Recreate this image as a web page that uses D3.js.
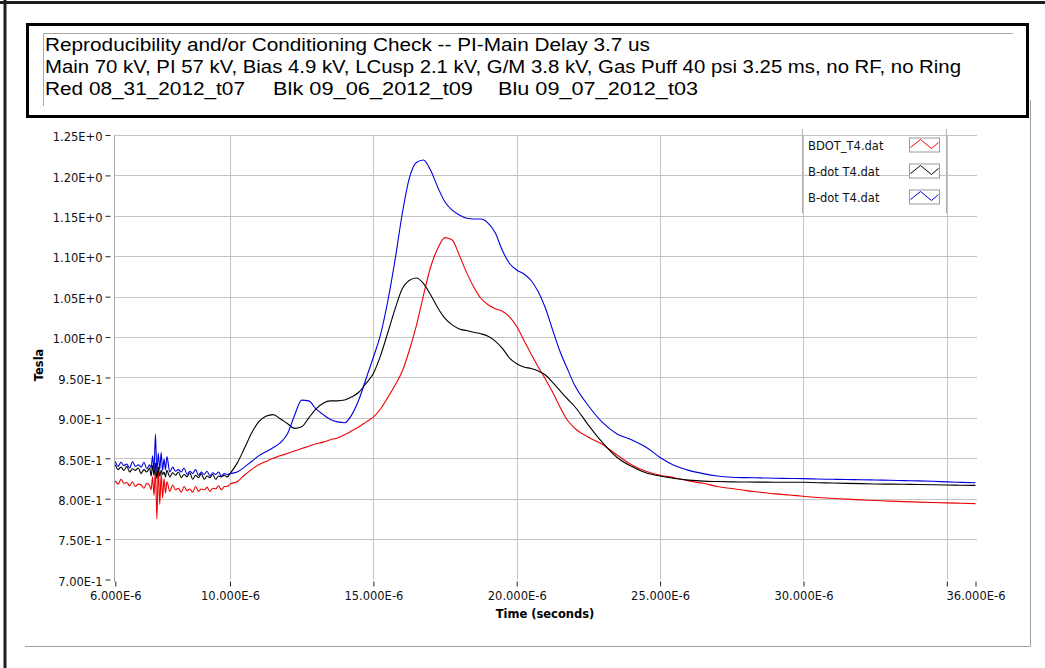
<!DOCTYPE html>
<html>
<head>
<meta charset="utf-8">
<script src="https://cdn.jsdelivr.net/npm/d3@7"></script>
<style>
    body { margin: 0; background: #ffffff; }
    svg { display: block; }
</style>
</head>
<body>
<div id="chart"></div>
<script>
// Titre (3 lignes)
const titleLine1 = "Reproducibility and/or Conditioning Check -- PI-Main Delay 3.7 us";
const titleLine2 = "Main 70 kV, PI 57 kV, Bias 4.9 kV, LCusp 2.1 kV, G/M 3.8 kV, Gas Puff 40 psi 3.25 ms, no RF, no Ring";
const titleLine3 = ["Red 08_31_2012_t07", "Blk 09_06_2012_t09", "Blu 09_07_2012_t03"];

const legendNames = ["BDOT_T4.dat", "B-dot T4.dat", "B-dot T4.dat"];
const seriesColors = ["#f00000", "#000000", "#0000e0"];

const xTicks = [6, 10, 15, 20, 25, 30, 35, 36];
const xLabelTicks = [6, 10, 15, 20, 25, 30, 36];
const xGrid = [10, 15, 20, 25, 30, 35];
const yTicks = [0.70, 0.75, 0.80, 0.85, 0.90, 0.95, 1.00, 1.05, 1.10, 1.15, 1.20, 1.25];

// temps en microsecondes
const timeUs = [
    6.0, 6.1, 6.2, 6.3, 6.4, 6.5, 6.6, 6.7, 6.8, 6.9, 7.0, 7.1, 7.2,
    7.25, 7.3, 7.35, 7.4, 7.45, 7.5, 7.55, 7.6, 7.65, 7.7, 7.75,
    7.8, 7.9, 8.0, 8.1, 8.2, 8.3, 8.4, 8.5, 8.6, 8.7, 8.8, 8.9, 9.0, 9.1, 9.2, 9.3, 9.4, 9.5, 9.6, 9.7, 9.8, 9.9, 10.0,
    10.25, 10.5, 10.75, 11.0, 11.25, 11.5, 11.75, 12.0, 12.25, 12.5, 12.75, 13.0, 13.25, 13.5, 13.75, 14.0,
    14.25, 14.5, 14.75, 15.0, 15.25, 15.5, 15.75, 16.0, 16.25, 16.5, 16.75, 17.0, 17.25, 17.5, 17.75, 18.0,
    18.25, 18.5, 18.75, 19.0, 19.25, 19.5, 19.75, 20.0, 20.25, 20.5, 20.75, 21.0, 21.25, 21.5, 21.75, 22.0,
    22.5, 23.0, 23.5, 24.0, 24.5, 25.0, 25.5, 26.0, 26.5, 27.0, 27.5, 28.0, 28.5, 29.0, 29.5,
    30.0, 30.5, 31.0, 31.5, 32.0, 32.5, 33.0, 33.5, 34.0, 34.5, 35.0, 35.5, 36.0
];

// Rouge 08_31_2012_t07
const redTesla = [
    0.822, 0.818, 0.824, 0.819, 0.820, 0.816, 0.821, 0.815, 0.818, 0.817, 0.813, 0.819, 0.816,
    0.811, 0.827, 0.804, 0.836, 0.775, 0.839, 0.793, 0.831, 0.801, 0.825, 0.807,
    0.821, 0.809, 0.817, 0.811, 0.813, 0.808, 0.815, 0.810, 0.812, 0.808, 0.815, 0.809, 0.812, 0.811, 0.814, 0.809, 0.813, 0.812, 0.816, 0.811, 0.815, 0.815, 0.818,
    0.821, 0.829, 0.836, 0.842, 0.846, 0.850, 0.853, 0.856, 0.859, 0.862, 0.865, 0.868, 0.870, 0.873, 0.875, 0.879,
    0.884, 0.889, 0.895, 0.901, 0.911, 0.925, 0.940, 0.957, 0.983, 1.014, 1.052, 1.087, 1.110, 1.123, 1.120, 1.101,
    1.080, 1.062, 1.048, 1.040, 1.035, 1.032, 1.025, 1.013, 0.996, 0.979, 0.963, 0.948, 0.932, 0.914, 0.898, 0.888,
    0.876, 0.867, 0.854, 0.842, 0.834, 0.829, 0.826, 0.822, 0.819, 0.815, 0.8125, 0.810, 0.808, 0.806, 0.8045,
    0.803, 0.8015, 0.8005, 0.7995, 0.7985, 0.7978, 0.797, 0.7963, 0.7958, 0.7953, 0.7948, 0.7943, 0.7939
];

// Noir 09_06_2012_t09
const blackTesla = [
    0.842, 0.836, 0.839, 0.835, 0.840, 0.833, 0.837, 0.835, 0.838, 0.831, 0.836, 0.833, 0.838,
    0.828, 0.841, 0.829, 0.844, 0.825, 0.839, 0.828, 0.835, 0.830, 0.833, 0.827,
    0.835, 0.827, 0.832, 0.829, 0.833, 0.826, 0.830, 0.827, 0.832, 0.824, 0.829, 0.826, 0.831, 0.824, 0.828, 0.826, 0.830, 0.824, 0.828, 0.827, 0.829, 0.827, 0.831,
    0.844, 0.862, 0.881, 0.895, 0.902, 0.904, 0.899, 0.893, 0.887, 0.889, 0.900, 0.911, 0.918, 0.921, 0.921, 0.922,
    0.926, 0.932, 0.943, 0.955, 0.977, 1.005, 1.034, 1.059, 1.070, 1.073, 1.066, 1.052, 1.036, 1.023, 1.015, 1.010,
    1.008, 1.006, 1.004, 1.001, 0.995, 0.986, 0.974, 0.967, 0.963, 0.961, 0.958, 0.953, 0.944, 0.934, 0.924, 0.915,
    0.891, 0.869, 0.851, 0.840, 0.832, 0.828, 0.825, 0.823, 0.8217, 0.8212, 0.8208, 0.8206, 0.8205, 0.8204, 0.8204,
    0.8203, 0.8198, 0.8194, 0.819, 0.8186, 0.8182, 0.818, 0.8178, 0.8175, 0.8172, 0.8169, 0.8166, 0.8164
];

// Bleu 09_07_2012_t03
const blueTesla = [
    0.846, 0.840, 0.845, 0.841, 0.843, 0.838, 0.846, 0.840, 0.842, 0.839, 0.845, 0.837, 0.842,
    0.838, 0.853, 0.835, 0.880, 0.833, 0.856, 0.836, 0.857, 0.835, 0.849, 0.836,
    0.852, 0.833, 0.839, 0.834, 0.836, 0.833, 0.838, 0.830, 0.834, 0.831, 0.836, 0.829, 0.833, 0.830, 0.834, 0.828, 0.832, 0.830, 0.833, 0.828, 0.831, 0.830, 0.831,
    0.833, 0.839, 0.846, 0.853, 0.858, 0.863, 0.869, 0.880, 0.903, 0.922, 0.921, 0.911, 0.904, 0.898, 0.895, 0.894,
    0.904, 0.923, 0.949, 0.975, 1.003, 1.044, 1.094, 1.151, 1.196, 1.216, 1.219, 1.206, 1.185, 1.167, 1.157, 1.151,
    1.147, 1.146, 1.146, 1.141, 1.129, 1.107, 1.091, 1.083, 1.078, 1.070, 1.056, 1.036, 1.009, 0.983, 0.962, 0.942,
    0.915, 0.894, 0.880, 0.873, 0.864, 0.851, 0.841, 0.835, 0.831, 0.828, 0.8265, 0.826, 0.8257, 0.8253, 0.825,
    0.8248, 0.8243, 0.824, 0.8237, 0.8235, 0.8231, 0.8228, 0.8224, 0.822, 0.8215, 0.8208, 0.8202, 0.8197
];

const width = 1045;
const height = 668;
const plot = { left: 115.3, right: 975.5, top: 135, bottom: 579.5 };

const svg = d3.select("#chart").append("svg")
    .attr("width", width)
    .attr("height", height);

svg.append("rect").attr("width", width).attr("height", height).attr("fill", "#ffffff");

// cadre extérieur (bord noir en haut et à gauche)
svg.append("line").attr("x1", 0).attr("x2", width).attr("y1", 2.5).attr("y2", 2.5)
    .attr("stroke", "#1e1e1e").attr("stroke-width", 3);
svg.append("line").attr("x1", 5).attr("x2", 5).attr("y1", 0).attr("y2", height)
    .attr("stroke", "#1e1e1e").attr("stroke-width", 3);

// panneau gris du graphe
svg.append("line").attr("x1", 25).attr("x2", 1030.5).attr("y1", 646.5).attr("y2", 646.5)
    .attr("stroke", "#a0a0a0").attr("stroke-width", 1);
svg.append("line").attr("x1", 1030.5).attr("x2", 1030.5).attr("y1", 100).attr("y2", 646.5)
    .attr("stroke", "#a0a0a0").attr("stroke-width", 1);

// boîte du titre
svg.append("rect")
    .attr("x", 27.5).attr("y", 24.5)
    .attr("width", 1000).attr("height", 92)
    .attr("fill", "#ffffff")
    .attr("stroke", "#000000")
    .attr("stroke-width", 3);
svg.append("path")
    .attr("d", "M43.5,106 V33.5 H1013")
    .attr("fill", "none")
    .attr("stroke", "#a8a8a8")
    .attr("stroke-width", 1);

const titleFont = "'Liberation Sans', Arial, sans-serif";
svg.append("text").attr("x", 45).attr("y", 51)
    .attr("font-family", titleFont).attr("font-size", 17.5)
    .attr("textLength", 605).attr("lengthAdjust", "spacingAndGlyphs")
    .text(titleLine1);
svg.append("text").attr("x", 45).attr("y", 73)
    .attr("font-family", titleFont).attr("font-size", 17.5)
    .attr("textLength", 916).attr("lengthAdjust", "spacingAndGlyphs")
    .text(titleLine2);
const line3X = [45, 273, 498];
titleLine3.forEach((t, i) => {
    svg.append("text").attr("x", line3X[i]).attr("y", 95)
        .attr("font-family", titleFont).attr("font-size", 17.5)
        .attr("textLength", 200).attr("lengthAdjust", "spacingAndGlyphs")
        .text(t);
});

// échelles
const x = d3.scaleLinear().domain([6, 36]).range([plot.left, plot.right]);
const y = d3.scaleLinear().domain([0.70, 1.25]).range([plot.bottom, plot.top]);

const axisFont = "'DejaVu Sans', Verdana, sans-serif";

// grille
svg.append("g")
    .selectAll("line")
    .data(yTicks.filter(d => d > 0.70))
    .enter()
    .append("line")
    .attr("x1", plot.left).attr("x2", 977)
    .attr("y1", d => Math.round(y(d)) + 0.5).attr("y2", d => Math.round(y(d)) + 0.5)
    .attr("stroke", "#c4c4c4").attr("stroke-width", 1);

svg.append("g")
    .selectAll("line")
    .data(xGrid)
    .enter()
    .append("line")
    .attr("x1", d => Math.round(x(d)) + 0.5).attr("x2", d => Math.round(x(d)) + 0.5)
    .attr("y1", plot.top).attr("y2", plot.bottom)
    .attr("stroke", "#c4c4c4").attr("stroke-width", 1);

// ligne de l'axe Y
svg.append("line")
    .attr("x1", 114.5).attr("x2", 114.5)
    .attr("y1", plot.top).attr("y2", 582)
    .attr("stroke", "#a8a8a8").attr("stroke-width", 1);

// axe Y
const yAxis = d3.axisLeft(y)
    .tickValues(yTicks)
    .tickSize(5)
    .tickPadding(3)
    .tickFormat(d => d.toExponential(2).replace("e", "E"));

const gy = svg.append("g")
    .attr("transform", "translate(110.5,0)")
    .call(yAxis);
gy.select(".domain").remove();
gy.selectAll(".tick line").attr("stroke", "#222222");
gy.selectAll(".tick text")
    .attr("dy", "0.5em")
    .attr("fill", "#111111")
    .style("font-family", axisFont)
    .style("font-size", "11.5px");

// axe X
const xAxis = d3.axisBottom(x)
    .tickValues(xTicks)
    .tickSize(5)
    .tickPadding(5)
    .tickFormat(d => xLabelTicks.includes(d) ? d.toFixed(3) + "E-6" : "");

const gx = svg.append("g")
    .attr("transform", "translate(0,581.5)")
    .call(xAxis);
gx.select(".domain").remove();
gx.selectAll(".tick line").attr("stroke", "#222222");
gx.selectAll(".tick text")
    .attr("fill", "#111111")
    .style("font-family", axisFont)
    .style("font-size", "11.5px");

// titres des axes
svg.append("text")
    .attr("x", 545).attr("y", 618)
    .attr("text-anchor", "middle")
    .attr("font-family", axisFont)
    .attr("font-weight", "bold")
    .attr("font-size", 11.5)
    .text("Time (seconds)");

svg.append("text")
    .attr("transform", "translate(43,365) rotate(-90)")
    .attr("text-anchor", "middle")
    .attr("font-family", axisFont)
    .attr("font-weight", "bold")
    .attr("font-size", 11.5)
    .text("Tesla");

// courbes
const series = [redTesla, blackTesla, blueTesla];
const line = d3.line()
    .x((d, i) => x(timeUs[i]))
    .y(d => y(d))
    .curve(d3.curveMonotoneX);

series.forEach((values, k) => {
    svg.append("path")
        .datum(values)
        .attr("d", line)
        .attr("fill", "none")
        .attr("stroke", seriesColors[k])
        .attr("stroke-width", 1.1)
        .attr("stroke-linejoin", "round");
});

// légende
const legend = svg.append("g");
legend.append("line").attr("x1", 802.5).attr("x2", 802.5).attr("y1", 129).attr("y2", 213)
    .attr("stroke", "#b0b0b0");
legend.append("line").attr("x1", 946.5).attr("x2", 946.5).attr("y1", 129).attr("y2", 213)
    .attr("stroke", "#b0b0b0");

legendNames.forEach((name, i) => {
    const cy = 145.5 + i * 26;
    legend.append("text")
        .attr("x", 808).attr("y", cy)
        .attr("dy", "0.35em")
        .attr("font-family", axisFont)
        .attr("font-size", 11.5)
        .attr("fill", "#111111")
        .text(name);
    legend.append("rect")
        .attr("x", 909.5).attr("y", cy - 7.5)
        .attr("width", 30).attr("height", 14)
        .attr("fill", "#ffffff")
        .attr("stroke", "#9a9a9a");
    legend.append("polyline")
        .attr("points", [[910.5, cy + 2], [920.5, cy - 6], [931.5, cy + 3], [938.5, cy - 3]].map(p => p.join(",")).join(" "))
        .attr("fill", "none")
        .attr("stroke", seriesColors[i])
        .attr("stroke-width", 1);
});
</script>
</body>
</html>
